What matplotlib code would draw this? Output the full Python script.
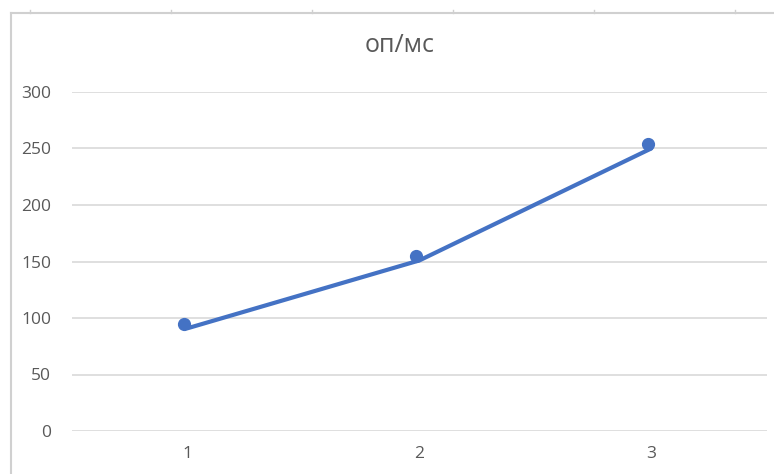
import matplotlib.pyplot as plt
import matplotlib.transforms as mtransforms
from matplotlib.lines import Line2D

categories = [1, 2, 3]
ops_per_ms = [91, 151, 250]
y_ticks = [0, 50, 100, 150, 200, 250, 300]
title = "оп/мс"

W, H = 774, 474
blue = "#4472C4"
grid = "#D9D9D9"
txt = "#595959"

plt.rcParams['font.family'] = ['Open Sans', 'DejaVu Sans']

fig = plt.figure(figsize=(W / 100, H / 100), dpi=100)
ax = fig.add_axes([72 / W, 43 / H, (767 - 72) / W, (431 - 92) / H])

ax.plot(categories, ops_per_ms, color=blue, lw=3, solid_capstyle='round', zorder=3)
# markers sit slightly up-left of the line, like in the original
shift = mtransforms.ScaledTranslation(-3.5 / 100, 4 / 100, fig.dpi_scale_trans)
ax.plot(categories, ops_per_ms, 'o', color=blue, ms=8.5, zorder=4,
        transform=ax.transData + shift)

ax.set_xlim(0.5, 3.5)
ax.set_ylim(0, 300)
ax.set_xticks(categories)
ax.set_yticks(y_ticks)
ax.yaxis.grid(True, color=grid, lw=1.2)
ax.set_axisbelow(True)
for s in ax.spines.values():
    s.set_visible(False)
ax.tick_params(length=0, labelsize=12.5, labelcolor=txt)
ax.tick_params(axis='y', pad=15)
ax.tick_params(axis='x', pad=11)

fig.text(400 / W, 1 - 45 / H, title, ha='center', va='center', fontsize=18, color=txt)

# outer chart frame (top and left edge) with small ruler ticks
frame = "#D0D0D0"
fig.add_artist(Line2D([11 / W, 1], [1 - 13 / H, 1 - 13 / H], color=frame, lw=1.5))
fig.add_artist(Line2D([11 / W, 11 / W], [0, 1 - 13 / H], color=frame, lw=1.5))
for x in [30, 171, 312, 453, 594, 735]:
    fig.add_artist(Line2D([x / W, x / W], [1 - 10 / H, 1 - 13 / H], color=frame, lw=1))

fig.savefig("out.png", dpi=100)
